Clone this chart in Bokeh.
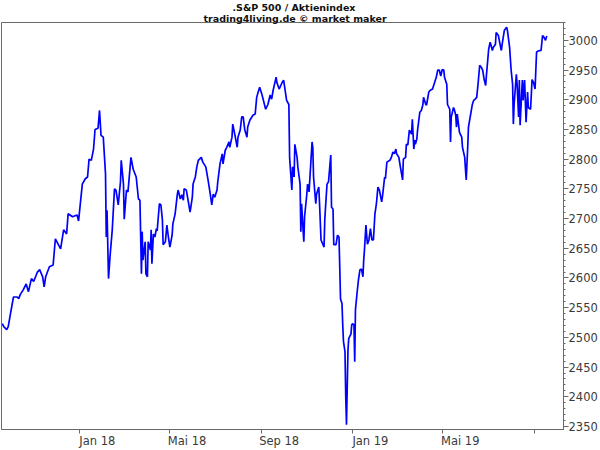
import pandas as pd
from bokeh.plotting import figure
from bokeh.models import (Range1d, FixedTicker, SingleIntervalTicker,
                          CustomJSTickFormatter, Title, ColumnDataSource)
from bokeh.embed import file_html
from bokeh.resources import INLINE

# ---------------- data ----------------
START = "2017-09-01"          # day offsets below count calendar days from here
day_offsets = [
    19, 21, 25, 27, 30, 34, 39, 41, 43, 47,
    51, 54, 58, 61, 66, 69, 73, 75, 77, 82,
    87, 90, 94, 97, 101, 105, 107, 113, 119, 121,
    126, 130, 133, 135, 138, 141, 143, 147, 149, 151,
    154, 157, 158, 159, 161, 163, 166, 169, 171, 174,
    177, 178, 181, 182, 185, 187, 191, 194, 198, 201,
    203, 205, 206, 207, 210, 211, 213, 214, 217, 218,
    219, 221, 223, 225, 226, 229, 231, 233, 234, 237,
    239, 241, 243, 246, 247, 250, 253, 254, 257, 259,
    261, 262, 265, 267, 270, 273, 274, 277, 279, 281,
    285, 287, 291, 294, 297, 299, 301, 303, 306, 307,
    310, 313, 314, 317, 319, 322, 323, 326, 327, 330,
    333, 334, 337, 339, 341, 343, 346, 347, 350, 354,
    357, 359, 361, 363, 366, 367, 371, 374, 377, 379,
    381, 385, 386, 389, 393, 395, 399, 402, 403, 406,
    407, 409, 410, 413, 414, 417, 418, 419, 421, 422,
    423, 426, 427, 429, 433, 434, 435, 438, 439, 442,
    443, 445, 446, 449, 450, 451, 453, 455, 457, 458,
    459, 461, 462, 465, 467, 469, 470, 471, 473, 474,
    475, 477, 478, 479, 481, 482, 485, 486, 487, 489,
    490, 491, 493, 495, 497, 499, 501, 502, 503, 505,
    506, 507, 509, 511, 513, 515, 517, 519, 521, 523,
    526, 527, 530, 531, 533, 537, 539, 541, 543, 545,
    546, 549, 551, 554, 555, 558, 559, 561, 563, 566,
    567, 569, 570, 571, 573, 574, 577, 579, 581, 582,
    585, 586, 589, 591, 594, 598, 599, 601, 603, 605,
    607, 609, 610, 613, 614, 617, 618, 619, 622, 623,
    625, 626, 627, 630, 633, 634, 637, 638, 639, 641,
    642, 645, 647, 649, 651, 653, 655, 657, 659, 661,
    663, 665, 666, 669, 671, 674, 675, 678, 679, 682,
    685, 686, 687, 690, 693, 694, 697, 699, 701, 702,
    703, 706, 707, 709, 710, 711, 714, 715, 717, 719,
    721, 722, 725, 727, 729, 731, 733, 735, 739, 741,
    743, 745, 746, 747,
]
closes = [
    2523, 2518, 2513, 2518, 2540, 2568, 2568, 2565, 2572, 2580,
    2590, 2577, 2599, 2594, 2610, 2614, 2602, 2585, 2602, 2619,
    2622, 2666, 2656, 2649, 2681, 2674, 2708, 2703, 2706, 2696,
    2758, 2767, 2770, 2800, 2798, 2817, 2850, 2852, 2882, 2840,
    2837, 2775, 2669, 2714, 2599, 2636, 2681, 2750, 2748, 2723,
    2762, 2798, 2758, 2699, 2748, 2745, 2803, 2783, 2770, 2733,
    2731, 2607, 2678, 2630, 2661, 2607, 2602, 2661, 2647, 2681,
    2624, 2674, 2669, 2683, 2679, 2725, 2723, 2698, 2656, 2661,
    2689, 2669, 2652, 2672, 2691, 2708, 2741, 2748, 2733, 2740,
    2731, 2750, 2748, 2733, 2711, 2736, 2758, 2770, 2787, 2798,
    2803, 2795, 2787, 2765, 2741, 2723, 2741, 2736, 2748, 2762,
    2792, 2809, 2792, 2815, 2820, 2829, 2820, 2837, 2859, 2840,
    2820, 2837, 2849, 2871, 2871, 2850, 2837, 2854, 2866, 2874,
    2876, 2904, 2913, 2921, 2909, 2904, 2884, 2892, 2908, 2901,
    2916, 2938, 2929, 2918, 2929, 2933, 2899, 2892, 2803, 2748,
    2787, 2770, 2825, 2803, 2787, 2758, 2678, 2725, 2681, 2661,
    2703, 2741, 2758, 2745, 2829, 2820, 2770, 2725, 2741, 2753,
    2725, 2664, 2661, 2652, 2698, 2719, 2758, 2762, 2792, 2807,
    2719, 2716, 2656, 2656, 2672, 2669, 2619, 2565, 2557, 2521,
    2493, 2476, 2400, 2353, 2479, 2498, 2506, 2521, 2523, 2521,
    2459, 2547, 2573, 2597, 2614, 2615, 2602, 2630, 2647, 2689,
    2672, 2657, 2664, 2683, 2664, 2664, 2708, 2725, 2753, 2748,
    2728, 2736, 2770, 2767, 2795, 2798, 2803, 2812, 2809, 2817,
    2809, 2803, 2787, 2765, 2800, 2803, 2825, 2824, 2849, 2842,
    2867, 2817, 2832, 2825, 2834, 2849, 2879, 2882, 2891, 2904,
    2892, 2891, 2913, 2916, 2918, 2934, 2938, 2950, 2950, 2940,
    2951, 2950, 2938, 2926, 2892, 2884, 2829, 2871, 2887, 2884,
    2874, 2854, 2876, 2845, 2837, 2820, 2803, 2783, 2765, 2820,
    2854, 2876, 2891, 2899, 2901, 2904, 2929, 2958, 2955, 2950,
    2934, 2924, 2941, 2985, 2997, 2983, 2988, 2993, 3013, 3008,
    2988, 2983, 2993, 3017, 3022, 3017, 2988, 2950, 2926, 2859,
    2892, 2943, 2926, 2871, 2933, 2857, 2933, 2899, 2933, 2862,
    2913, 2887, 2884, 2934, 2929, 2918, 2980, 2982, 2983, 3008,
    3005, 3000, 3005, 3007,
]
month_ticks = ["2018-01-01", "2018-05-01", "2018-09-01",
               "2019-01-01", "2019-05-01", "2019-09-01"]
month_labels = ["Jan 18", "Mai 18", "Sep 18", "Jan 19", "Mai 19"]
title_line1 = ".S&P 500 / Aktienindex"
title_line2 = "trading4living.de \u00a9 market maker"
x_start, x_end = "2017-09-19", "2019-10-10"
y_start, y_end = 2345, 3030
y_tick_step = 50

# ---------------- build ----------------
def ms(d):
    return pd.Timestamp(d).value / 1e6

DAY = 86400000.0
dates = pd.Timestamp(START) + pd.to_timedelta(day_offsets, unit="D")
src = ColumnDataSource(dict(date=dates, close=closes))

FONT = "DejaVu Sans"
GREY = "#6a6a6a"

p = figure(width=600, height=450, x_axis_type="datetime", y_axis_location="right",
           x_range=Range1d(ms(x_start), ms(x_end)), y_range=Range1d(y_start, y_end),
           output_backend="svg", toolbar_location=None,
           min_border_left=1, min_border_right=0, min_border_top=0, min_border_bottom=0,
           background_fill_color="white", border_fill_color="white")

p.line("date", "close", source=src, line_color="#0000ff", line_width=1.7)

p.xgrid.visible = False
p.ygrid.visible = False
p.outline_line_color = GREY
p.outline_line_width = 1

# x axis: tick marks at month starts, labels set to the right of each tick
xa = p.xaxis[0]
xa.ticker = FixedTicker(ticks=[ms(d) + 24 * DAY for d in month_ticks[:len(month_labels)]],
                        minor_ticks=[ms(d) for d in month_ticks])
xa.formatter = CustomJSTickFormatter(args=dict(labels=month_labels),
                                     code="return labels[index] ?? '';")
xa.major_tick_line_color = None
xa.major_tick_in = 0
xa.major_tick_out = 1
xa.minor_tick_line_color = GREY
xa.minor_tick_in = 0
xa.minor_tick_out = 4
xa.axis_line_color = GREY
xa.major_label_standoff = 0

ya = p.yaxis[0]
ya.ticker = SingleIntervalTicker(interval=y_tick_step, num_minor_ticks=5)
ya.major_tick_in = 0
ya.major_tick_out = 5
ya.minor_tick_in = 0
ya.minor_tick_out = 2
ya.major_tick_line_color = GREY
ya.minor_tick_line_color = GREY
ya.axis_line_color = GREY
ya.major_label_standoff = 0

for ax in (xa, ya):
    ax.major_label_text_font = FONT
    ax.major_label_text_font_size = "11.5px"
    ax.major_label_text_color = "#3a3a3a"

p.add_layout(Title(text=title_line2, align="left", offset=202, standoff=-3,
                   text_font=FONT, text_font_size="9.5px", text_font_style="bold",
                   text_color="#111111"), "above")
p.add_layout(Title(text=title_line1, align="left", offset=231, standoff=-1,
                   text_font=FONT, text_font_size="9.5px", text_font_style="bold",
                   text_color="#111111"), "above")

open("out.html", "w").write(file_html(p, INLINE))
